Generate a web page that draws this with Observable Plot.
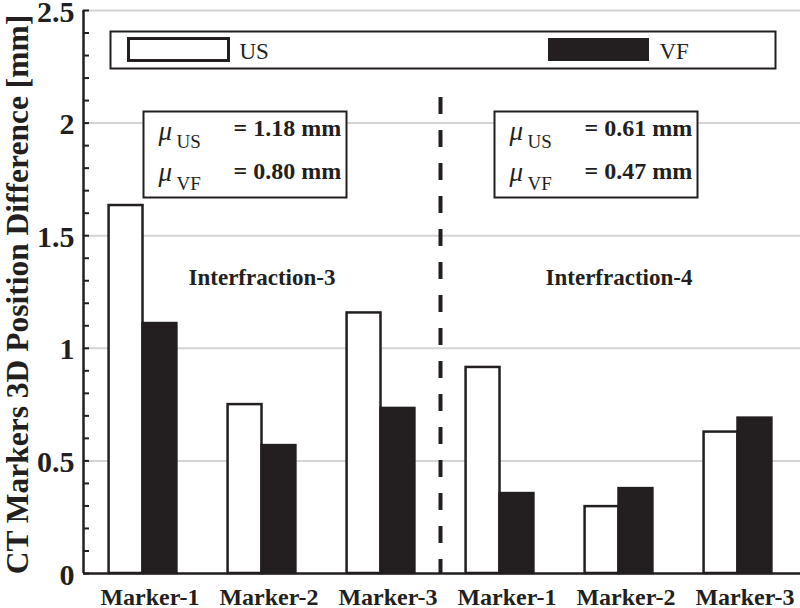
<!DOCTYPE html>
<html><head><meta charset="utf-8">
<script src="https://cdn.jsdelivr.net/npm/d3@7"></script>
<script src="https://cdn.jsdelivr.net/npm/@observablehq/plot@0.6"></script>
<style>body{margin:0;background:#fff}#chart{width:800px;height:608px}</style>
</head><body><div id="chart"></div>
<script>
// ---- data ----
const markers = ["Marker-1", "Marker-2", "Marker-3", "Marker-1", "Marker-2", "Marker-3"];
const groups = ["Interfraction-3", "Interfraction-4"];
const series = ["US", "VF"];
const usValues = [1.634, 0.750, 1.157, 0.915, 0.297, 0.628];
const vfValues = [1.110, 0.568, 0.733, 0.355, 0.377, 0.690];
const meanLabels = [["1.18", "0.80"], ["0.61", "0.47"]];
const yTicks = [0, 0.5, 1, 1.5, 2, 2.5];
const yMinorTicks = d3.range(0, 26).map(i => i / 10);
const yLabel = "CT Markers 3D Position Difference [mm]";

// ---- layout ----
const W = 800, H = 608, mL = 83, mT = 10, mR = 0, mB = 35;
const serif = "'Times New Roman', 'Liberation Serif', 'DejaVu Serif', serif";
const ink = "#231f20";
const groupSize = 3;
const barW = 0.285;
const frameW = W - mL - mR, frameH = H - mT - mB;

const bars = [];
markers.forEach((m, i) => {
  bars.push({pos: i + 1, series: "US", value: usValues[i]});
  bars.push({pos: i + 1, series: "VF", value: vfValues[i]});
});
const groupData = groups.map((g, k) => ({name: g, pos: k * groupSize + (groupSize + 1) / 2}));
const separators = groups.slice(1).map((g, k) => (k + 1) * groupSize + 0.5);

function box(l, t, r, b, opts) {
  return Plot.frame({insetLeft: l - mL, insetTop: t - mT, insetRight: W - mR - r, insetBottom: H - mB - b, ...opts});
}
function label(str, x, y, opts) {
  return Plot.text([str], {text: d => d, frameAnchor: "top-left", dx: x - mL, dy: y - mT,
    lineAnchor: "bottom", textAnchor: "start", fontFamily: serif, fill: ink, ...opts});
}

const marks = [
  Plot.gridY(yTicks.filter(v => v > 0), {stroke: "#d4d4d4", strokeOpacity: 1, strokeWidth: 2}),
  Plot.rectY(bars, {
    x1: d => d.series === "US" ? d.pos - barW : d.pos,
    x2: d => d.series === "US" ? d.pos : d.pos + barW,
    y1: 0, y2: "value",
    fill: d => d.series === "US" ? "white" : ink,
    stroke: ink, strokeWidth: 2.5
  }),
  Plot.ruleX(separators, {insetTop: 87, stroke: ink, strokeWidth: 4, strokeDasharray: "17,16"}),
  Plot.ruleY([0], {stroke: ink, strokeWidth: 2.5}),
  Plot.ruleX([0.5], {stroke: ink, strokeWidth: 2.5}),
  Plot.tickY(yMinorTicks, {y: d => d, insetRight: frameW - 6, stroke: ink, strokeWidth: 2}),
  Plot.axisY(yTicks, {tickSize: 0, tickPadding: 9, dy: 1.5, tickFormat: d => String(d), fontSize: 30, fontWeight: "bold",
    fontFamily: serif, fill: ink, label: null}),
  Plot.axisX(markers.map((m, i) => i + 1), {tickFormat: i => markers[i - 1], tickSize: 0, tickPadding: 14, dx: 7,
    fontSize: 24, fontWeight: "bold", fontFamily: serif, fill: ink, label: null}),
  Plot.text([yLabel], {text: d => d, frameAnchor: "left", dx: 27 - mL, dy: 294 - (mT + frameH / 2), rotate: -90,
    lineAnchor: "bottom", textAnchor: "middle", fontSize: 31.5, fontWeight: "bold", fontFamily: serif, fill: ink}),
  Plot.text(groupData, {x: "pos", text: "name", frameAnchor: "top", dy: 284 - mT, lineAnchor: "bottom",
    textAnchor: "middle", fontSize: 23, fontWeight: "bold", fontFamily: serif, fill: ink}),
  // legend
  box(110, 31, 775, 68, {fill: "white", stroke: ink, strokeWidth: 2})
];
const legendX = [128, 548];
series.forEach((s, k) => {
  marks.push(box(legendX[k], 38, legendX[k] + 100, 60,
    {fill: k === 0 ? "white" : ink, stroke: ink, strokeWidth: k === 0 ? 3 : 1}));
  marks.push(label(s, legendX[k] + 111, 58, {fontSize: 23}));
});
// stats boxes
const statsLeft = [143, 494];
groups.forEach((g, k) => {
  const left = statsLeft[k];
  marks.push(box(left, 111, left + 203, 197, {fill: "white", stroke: ink, strokeWidth: 2}));
  series.forEach((s, r) => {
    marks.push(label("μ", left + 15, [139, 180][r], {fontSize: 27, fontStyle: "italic"}));
    marks.push(label(s, left + 33, [147, 189][r], {fontSize: 19}));
    marks.push(label(`= ${meanLabels[k][r]} mm`, left + 90, [135, 178][r], {fontSize: 24, fontWeight: "bold"}));
  });
});

const chart = Plot.plot({
  width: W, height: H,
  marginLeft: mL, marginTop: mT, marginRight: mR, marginBottom: mB,
  x: {domain: [0.5, 0.5 + frameW / 119], axis: null},
  y: {domain: [0, 2.5], axis: null},
  style: {fontFamily: serif, color: ink, background: "white", overflow: "visible"},
  marks
});
document.getElementById("chart").appendChild(chart);
</script>
</body></html>
